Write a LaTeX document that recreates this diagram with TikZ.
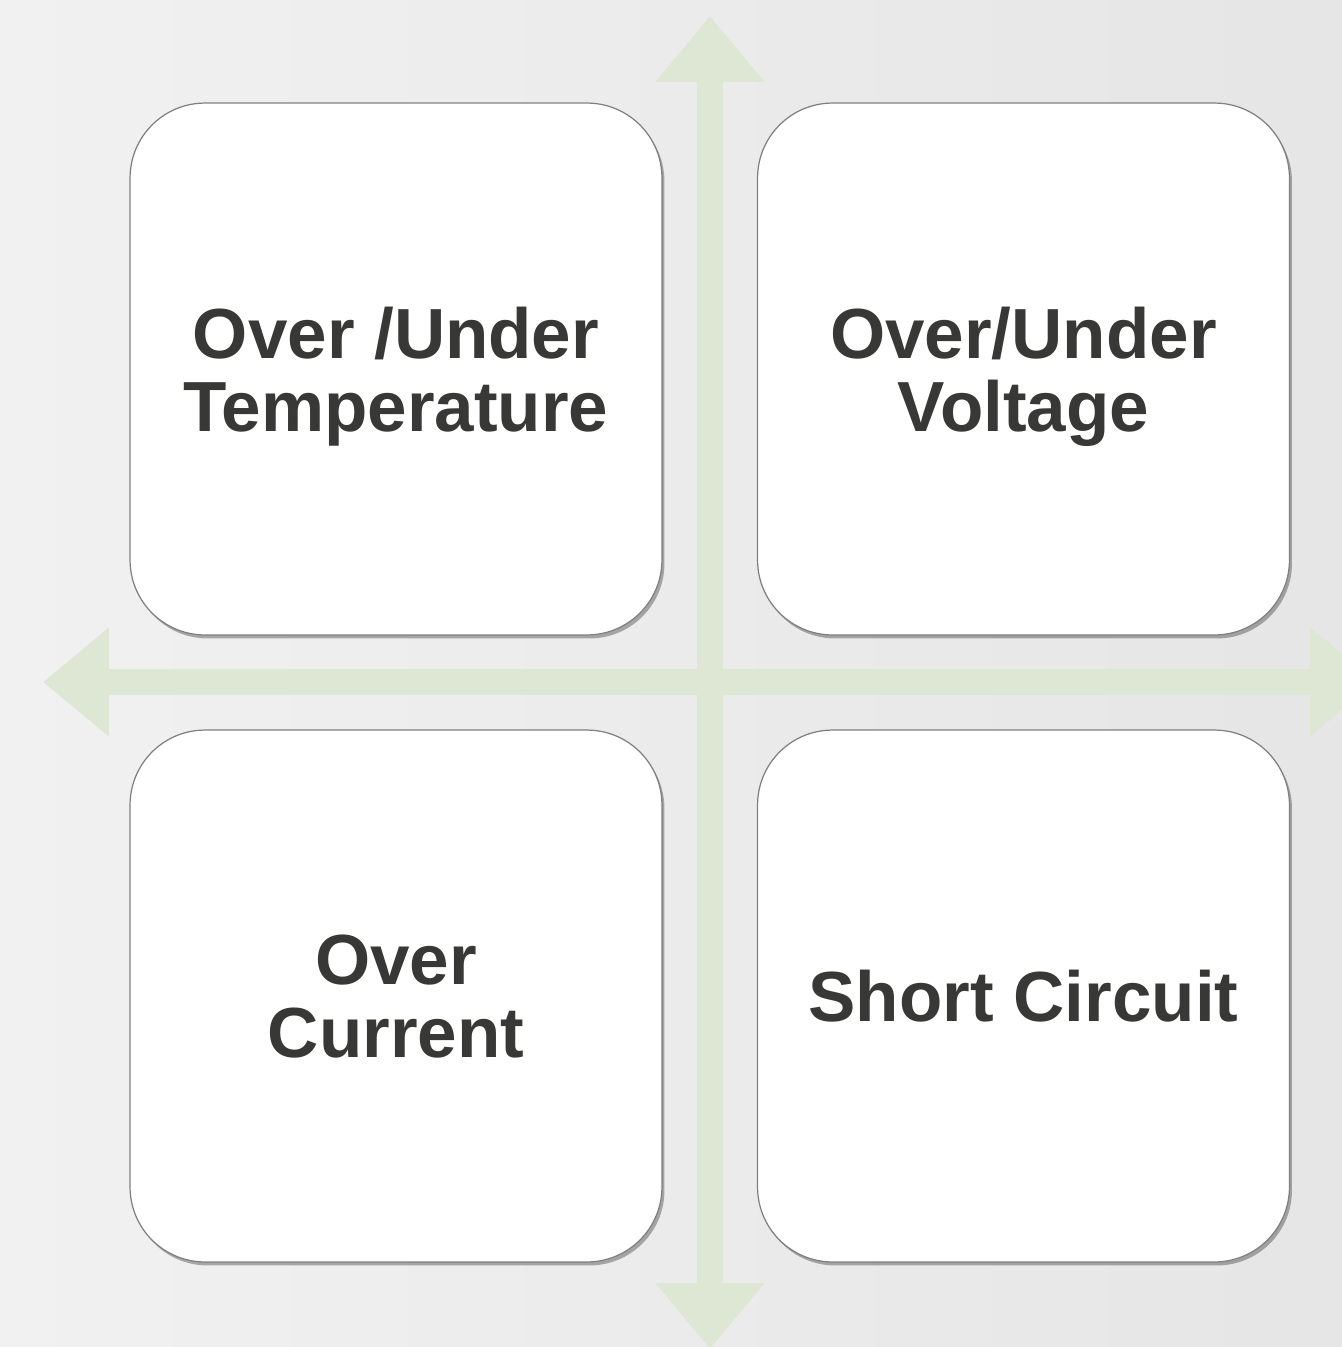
\documentclass[tikz,border=0pt]{standalone}
\usepackage{fontspec}
\setmainfont{Liberation Sans}
\usetikzlibrary{arrows.meta,shadows}
\definecolor{crossgreen}{RGB}{221,231,211}
\definecolor{boxtext}{RGB}{56,56,54}
\definecolor{boxline}{RGB}{128,128,128}

\begin{document}
\begin{tikzpicture}[x=0.02cm, y=-0.02cm,
    faultbox/.style={draw=boxline, line width=0.7pt, fill=white, rounded corners=1.5cm,
      minimum width=10.64cm, minimum height=10.64cm, align=center, text=boxtext,
      text depth=0pt, font=\fontsize{40.4pt}{41.5pt}\selectfont\bfseries,
      drop shadow={shadow xshift=0.05cm, shadow yshift=-0.07cm, opacity=0.3, fill=black}},
    crossarrow/.style={crossgreen, line width=0.52cm,
      {Triangle[length=1.32cm, width=2.1cm]}-{Triangle[length=1.32cm, width=2.1cm]},
      drop shadow={shadow xshift=0.03cm, shadow yshift=-0.05cm, opacity=0.2}}]

  %%%%%%%%%%%%%%%%%%%%%%%%%%%%%%
  % Background and frame       %
  %%%%%%%%%%%%%%%%%%%%%%%%%%%%%%
  \useasboundingbox (0,0) rectangle (1342,1347);
  \clip (0,0) rectangle (1342,1347);
  \shade[left color=gray!11, right color=gray!20] (0,0) rectangle (1342,1347);

  %%%%%%%%%%%%%%%%%%%%%%%%%%%%%%
  % The cross of arrows        %
  %%%%%%%%%%%%%%%%%%%%%%%%%%%%%%
  \coordinate (top) at (710,16);
  \coordinate (bottom) at (710,1349);
  \coordinate (left) at (43,682);
  \coordinate (right) at (1376,682);
  \draw[crossarrow] (bottom) -- (top);
  \draw[crossarrow] (left) -- (right);

  %%%%%%%%%%%%%%%%%%%%%%%%%%%%%%
  % The four fault boxes       %
  %%%%%%%%%%%%%%%%%%%%%%%%%%%%%%
  % Top Left
  \node[faultbox] (temp) at (396,369) {Over /Under\\Temperature};
  % Top Right
  \node[faultbox] (volt) at (1023.5,369) {Over/Under\\Voltage};
  % Bottom Left
  \node[faultbox] (curr) at (396,996) {Over\\Current};
  % Bottom Right
  \node[faultbox] (short) at (1023.5,996) {Short Circuit};

\end{tikzpicture}
\end{document}
